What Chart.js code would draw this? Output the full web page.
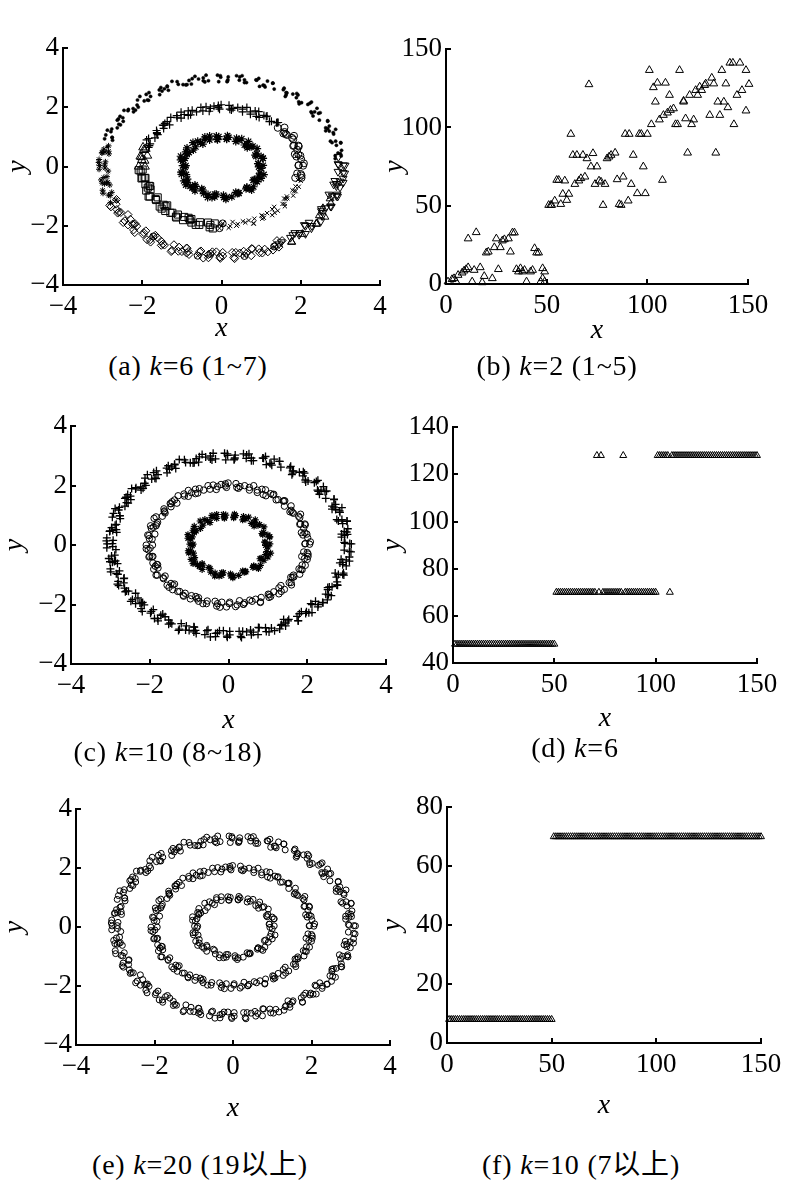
<!DOCTYPE html>
<html>
<head>
<meta charset="utf-8">
<script src="https://cdn.jsdelivr.net/npm/chart.js@4.4.0/dist/chart.umd.min.js"></script>
<style>
  body { margin: 0; background: #fff; }
  #fig { position: relative; width: 800px; height: 1195px; overflow: hidden; background: #fff; }
  canvas { position: absolute; }
  .cap { position: absolute; transform: translate(-50%, -50%); font: 28px "Liberation Serif", "Noto Sans CJK SC", serif; letter-spacing: 0.8px; white-space: nowrap; line-height: 1; color: #000; }
</style>
</head>
<body>
<div id="fig"></div>
<script>
// three rings data set, grouped by the clusters of panel (a)
const outerDots = [[3.02,0.36],[2.87,0.37],[3.00,0.44],[2.90,0.72],[3.01,0.80],[2.79,0.81],[2.82,1.15],[2.83,1.10],[2.63,1.31],[2.68,1.28],[2.68,1.55],[2.47,1.57],[2.49,1.82],[2.28,1.81],[2.35,1.85],[2.18,2.10],[2.23,2.14],[1.96,2.12],[1.93,2.42],[1.89,2.33],[1.63,2.50],[1.63,2.42],[1.58,2.65],[1.33,2.62],[1.30,2.82],[1.05,2.75],[1.08,2.74],[0.87,2.93],[0.89,2.92],[0.58,2.84],[0.52,3.07],[0.45,2.92],[0.17,3.03],[0.15,2.89],
  [-0.03,3.07],[-0.02,3.02],[-0.33,2.90],[-0.39,3.09],[-0.46,2.90],[-0.74,2.97],[-0.76,2.79],[-0.82,2.91],[-1.09,2.78],[-1.12,2.87],[-1.37,2.70],[-1.34,2.58],[-1.53,2.67],[-1.50,2.55],[-1.79,2.37],[-1.83,2.50],[-1.87,2.25],[-2.12,2.25],[-2.10,2.01],[-2.13,2.08],[-2.36,1.89],[-2.35,1.93],[-2.56,1.70],[-2.48,1.53],[-2.63,1.57],[-2.55,1.41],[-2.79,1.18],[-2.77,1.27],[-2.76,0.98],[-2.95,0.94],[-2.88,0.67],
  [2.87,0.27],[3.03,0.55],[2.94,0.46],[3.01,0.81],[2.75,0.86],[2.88,0.86],[2.72,1.20],[2.88,1.26],[2.63,1.21],[2.72,1.37],[2.68,1.53],[2.45,1.80],[2.31,1.71],[2.41,1.97],[2.26,1.85],[2.27,2.18],[1.95,2.19],[2.02,2.16],[1.80,2.45],[1.90,2.47],[1.61,2.37],[1.65,2.49],[1.56,2.60],[1.29,2.82],[1.10,2.69],[1.16,2.89],[0.96,2.71],[0.94,2.98],[0.58,2.93],[0.63,2.84],[0.38,3.07],[0.46,3.03],[0.14,2.87],[0.16,2.93],
  [-0.07,2.87],[-0.10,3.09],[-0.46,3.00],[-0.42,2.86],[-0.67,3.05],[-0.58,2.96],[-0.90,2.76],[-0.87,2.77],[-0.97,2.77],[-1.25,2.88],[-1.44,2.63],[-1.37,2.72],[-1.56,2.43],[-1.57,2.59],[-1.90,2.44],[-1.84,2.24],[-2.06,2.37],[-1.95,2.22],[-2.23,1.96],[-2.17,1.91],[-2.22,1.85],[-2.46,1.90],[-2.60,1.61],[-2.49,1.65],[-2.63,1.31],[-2.59,1.43],[-2.88,1.23],[-2.76,0.99],[-2.92,1.07],[-2.75,0.89]];
const outerStars = [[-2.85,0.70],[-3.01,0.48],[-2.94,0.49],[-3.09,0.24],[-2.95,0.05],[-2.94,-0.05],[-3.09,-0.09],[-2.97,-0.37],[-2.89,-0.34],[-3.01,-0.56],[-2.90,-0.55],[-3.00,-0.80],[-2.81,-0.98],[-2.85,-0.96],[-2.66,-1.13],
  [-2.97,0.59],[-2.85,0.52],[-2.84,0.43],[-3.02,0.46],[-3.10,0.14],[-2.93,0.16],[-3.08,0.04],[-2.86,-0.15],[-3.04,-0.45],[-2.87,-0.53],[-2.82,-0.62],[-2.95,-0.58],[-2.99,-0.90],[-2.77,-0.87],[-2.80,-1.22]];
const outerDiamonds = [[-2.79,-1.36],[-2.66,-1.27],[-2.54,-1.55],[-2.62,-1.57],[-2.44,-1.83],[-2.30,-1.78],[-2.36,-1.97],[-2.18,-1.93],[-2.22,-2.14],[-1.98,-2.29],[-1.96,-2.23],[-1.79,-2.55],[-1.61,-2.41],[-1.44,-2.65],[-1.48,-2.62],[-1.25,-2.83],[-1.07,-2.72],[-1.09,-2.86],[-0.87,-2.76],[-0.88,-2.92],[-0.55,-2.88],[-0.33,-3.08],[-0.13,-2.88],[0.03,-2.90],[0.03,-3.02],[0.31,-3.07],[0.36,-2.90],[0.63,-2.93],[0.78,-2.78],[0.96,-2.91],[0.94,-2.78],[1.17,-2.88],[1.35,-2.67],[1.53,-2.50],
  [-2.65,-1.11],[-2.82,-1.31],[-2.59,-1.54],[-2.64,-1.45],[-2.36,-1.62],[-2.48,-1.89],[-2.25,-1.95],[-2.14,-2.01],[-2.21,-1.95],[-2.19,-2.23],[-1.91,-2.17],[-1.88,-2.47],[-1.67,-2.32],[-1.80,-2.47],[-1.52,-2.66],[-1.52,-2.52],[-1.20,-2.64],[-1.27,-2.87],[-1.00,-2.87],[-0.84,-2.87],[-0.88,-2.75],[-0.82,-2.97],[-0.52,-2.85],[-0.46,-3.09],[-0.23,-2.88],[-0.33,-2.97],[-0.03,-3.10],
  [-0.04,-3.06],[0.27,-2.90],[0.33,-3.11],[0.56,-2.86],[0.46,-2.92],[0.75,-3.01],[0.76,-2.77],[1.09,-2.79],[1.03,-2.92],[1.30,-2.82],[1.45,-2.72],[1.40,-2.50]];
const outerCircX = [[-1.72,-2.36],[-0.60,-3.01],[-0.28,-2.95],[0.58,-3.02],[1.33,-2.70]];
const outerTriDown = [[1.51,-2.55],[1.80,-2.31],[1.96,-2.30],[2.12,-2.00],[2.27,-2.08],[2.21,-1.89],[2.54,-1.67],[2.63,-1.40],[2.77,-1.35],[2.93,-1.01],[2.79,-0.99],[2.90,-0.66],[2.99,-0.70],[2.86,-0.48],[2.99,-0.50],[3.07,-0.21],[2.94,-0.17],[3.08,0.05],[2.94,0.09],
  [1.45,-2.62],[1.74,-2.40],[1.98,-2.24],[1.85,-2.24],[2.12,-2.27],[2.09,-1.97],[2.28,-2.00],[2.51,-1.84],[2.52,-1.43],[2.52,-1.50],[2.75,-1.34],[2.90,-0.99],[2.71,-0.94],[2.92,-0.94],[2.83,-0.60],[3.07,-0.54],[2.90,-0.58],[3.07,-0.40],[3.11,-0.23],[2.96,0.06],[3.12,0.04],[2.95,0.33]];
const outerTriUp = [[1.77,-2.54],[2.04,-2.28],[2.40,-1.94],[2.47,-1.65],[2.56,-1.41],[2.74,-1.08],[1.77,-2.55],[2.39,-1.93],[2.61,-1.70],[2.76,-1.24]];

const midCircles = [[2.02,-0.38],[1.91,-0.23],[2.00,-0.25],[2.06,0.03],[1.95,0.05],[2.01,0.25],[1.89,0.34],[1.99,0.37],[1.91,0.57],[1.95,0.68],[1.81,0.70],[1.81,0.92],[1.78,0.97],[1.62,1.10],[1.65,1.07],[1.59,1.32],[1.42,1.31],
  [2.08,0.11],[1.94,0.41],[1.85,0.42],[1.94,0.71],[1.83,0.71],[1.83,1.04],[1.56,1.12],[1.59,1.17],[1.86,-0.38],[2.02,-0.30],[1.94,0.04]];
const midPlus = [[1.43,1.49],[1.21,1.52],[1.26,1.53],[1.13,1.69],[1.07,1.73],[0.88,1.70],[0.85,1.88],[0.73,1.85],[0.53,1.94],[0.53,1.85],[0.41,2.00],[0.21,1.94],[0.19,2.07],
  [-0.08,1.99],[-0.05,1.94],[-0.19,2.04],[-0.28,1.97],[-0.47,1.88],[-0.52,2.00],[-0.63,1.85],[-0.84,1.88],[-0.84,1.73],[-0.94,1.76],[-1.12,1.65],[-1.13,1.72],[-1.37,1.52],[-1.31,1.41],[-1.43,1.46],[-1.46,1.29],[-1.63,1.15],[-1.64,1.22],[-1.68,0.97],[-1.84,0.95],[-1.80,0.77],[-1.82,0.71],
  [1.39,1.48],[1.41,1.49],[1.15,1.71],[0.95,1.66],[0.94,1.86],[0.73,1.77],[0.64,2.00],[0.29,1.97],[0.25,1.91],[-0.01,2.09],
  [-0.08,2.06],[-0.31,1.87],[-0.39,2.02],[-0.74,1.90],[-0.78,1.75],[-1.02,1.84],[-1.02,1.64],[-1.28,1.66],[-1.48,1.40],[-1.46,1.39],[-1.61,1.08],[-1.63,1.12],[-1.89,0.90],[-1.84,0.65]];
const midTriangles = [[-1.96,0.56],[-1.91,0.60],[-2.05,0.34],[-1.94,0.20],[-2.01,0.22],[-1.93,0.00],[-1.98,0.65],[-1.87,0.37],[-2.02,0.32],[-2.09,0.00]];
const midSquares = [[-2.04,-0.16],[-1.99,-0.10],[-1.92,-0.38],[-2.02,-0.40],[-1.92,-0.60],[-1.82,-0.65],[-1.90,-0.81],[-1.79,-0.77],[-1.81,-1.01],[-1.65,-1.13],[-1.66,-1.10],[-1.46,-1.29],[-1.51,-1.42],[-1.41,-1.34],[-1.24,-1.56],[-1.29,-1.56],[-1.14,-1.72],[-0.94,-1.70],[-0.97,-1.81],[-0.83,-1.73],[-0.76,-1.89],[-0.56,-1.97],[-0.54,-1.88],[-0.28,-1.97],[-0.30,-2.05],[-0.17,-1.92],
  [-2.09,-0.12],[-1.94,-0.39],[-2.00,-0.38],[-1.80,-0.66],[-1.86,-0.71],[-1.84,-1.01],[-1.61,-1.04],[-1.56,-1.35],[-1.37,-1.31],[-1.42,-1.50],[-1.15,-1.69],[-1.10,-1.62],[-0.80,-1.81],[-0.76,-1.77],[-0.65,-1.97],[-0.34,-1.89],[-0.22,-2.09]];
const midCircX = [[-0.05,-2.08],[0.03,-1.92]];
const midCrosses = [[0.02,-1.97],[0.18,-2.07],[0.41,-1.94],[0.38,-1.99],[0.54,-1.85],[0.60,-1.89],[0.81,-1.91],[0.83,-1.76],[1.07,-1.73],[1.03,-1.76],[1.15,-1.57],[1.34,-1.56],[1.28,-1.44],[1.42,-1.49],[1.59,-1.26],[1.54,-1.26],[1.66,-1.07],[1.65,-1.01],[1.81,-0.98],[1.79,-0.80],[1.95,-0.68],[1.87,-0.67],[1.93,-0.45],
  [0.22,-2.01],[0.28,-1.87],[0.38,-1.99],[0.69,-1.82],[0.81,-1.93],[1.04,-1.67],[1.01,-1.65],[1.28,-1.64],[1.33,-1.36],[1.60,-1.34],[1.58,-1.08],[1.62,-1.09],[1.84,-0.82],[1.87,-0.83],[2.00,-0.48]];

const innerRing = [[1.05,0.04],[0.93,0.10],[1.00,0.34],[0.85,0.39],[0.89,0.43],[0.75,0.67],[0.79,0.69],[0.58,0.73],[0.51,0.94],[0.44,0.88],[0.18,0.99],[0.13,0.94],
  [-0.07,1.01],[-0.11,0.92],[-0.30,1.03],[-0.30,0.90],[-0.53,0.81],[-0.60,0.86],[-0.65,0.67],[-0.87,0.63],[-0.87,0.45],[-0.87,0.42],[-1.03,0.23],[-0.96,0.21],
  [-0.92,-0.02],[-1.02,-0.19],[-0.96,-0.19],[-0.86,-0.42],[-0.95,-0.48],[-0.79,-0.66],[-0.66,-0.67],[-0.67,-0.82],[-0.47,-0.79],[-0.45,-0.91],[-0.24,-1.04],[-0.17,-0.93],
  [0.06,-1.04],[0.05,-0.97],[0.26,-1.02],[0.43,-0.88],[0.44,-0.90],[0.64,-0.71],[0.64,-0.70],[0.81,-0.68],[0.83,-0.44],[1.00,-0.40],[0.94,-0.32],[1.00,-0.06],
  [0.92,0.10],[1.04,0.28],[1.05,0.28],[0.87,0.35],[0.90,0.61],[0.65,0.64],[0.68,0.85],[0.65,0.76],[0.38,0.96],[0.36,0.85],[0.13,0.92],[0.15,1.04],
  [-0.10,0.91],[-0.13,1.03],[-0.42,0.93],[-0.42,1.00],[-0.47,0.76],[-0.72,0.81],[-0.71,0.56],[-0.90,0.50],[-0.82,0.48],[-1.03,0.35],[-0.92,0.28],[-0.90,0.03],
  [-0.98,0.03],[-0.89,-0.27],[-1.01,-0.26],[-0.86,-0.54],[-0.90,-0.62],[-0.67,-0.62],[-0.74,-0.72],[-0.50,-0.75],[-0.34,-0.94],[-0.35,-1.04],[-0.13,-0.93],[-0.17,-1.02],
  [0.11,-1.10],[0.13,-1.04],[0.40,-0.91],[0.36,-0.87],[0.62,-0.75],[0.76,-0.79],[0.72,-0.75],[0.90,-0.51],[0.80,-0.46],[0.97,-0.22],[1.07,-0.27],[0.94,-0.01]];

// panel (b): sample index and value
const bX = [1,3,4,5,6,8,9,10,11,11,13,14,15,17,18,19,20,21,23,24,25,26,27,28,29,31,32,33,34,35,36,37,38,39,40,42,43,44,45,46,47,48,48,49,49,
  51,52,52.5,54,55,56,57,58,59,60,61,62,63,64,65,66,67,68,69,70,71,72,73,74,75,76,77,78,79,80,81,82,84,85,86,87,88,89,90.5,91,92,93,95,96,97,98,99,100,
  101,102,103,104,105,106,107.5,108,109,110,111,111.5,113,114,115,116,118,118,119,120,121,122,123,124,125,126,127,128.5,129,131,132,133,134,135,136,137,138,139,140,141,142.5,143,144.5,146,147,149,149,150.5];
const bY = [1.5,3,3.6,1.5,5.7,7.2,8.5,9.4,10.6,29,1.5,8.9,33,10.6,1,5,20,20.6,3.6,23.4,29,9.4,23.4,27.7,28.5,29,20.6,32.8,32.8,9.4,7.9,10,7.9,8.9,1.5,7.9,8.9,22.8,20,20,1.5,3.6,10,7.9,1.5,
  50.4,50.4,50.4,53.2,66.4,66.4,51,57.5,66,53.6,57.5,95.8,82.4,63.8,82.4,66,67.5,82.4,68.5,80.2,127.5,75,83.5,63.8,75,66,65.3,50.4,63.8,80.2,81.3,82.4,83.8,66.8,51,50.4,68.5,95.8,53.2,95.8,63.8,82.4,57.9,95.8,95.8,75,57.9,95.8,
  136.6,102,125.6,116.4,128.5,105,66.4,107.9,128.5,109.4,120.7,111.1,112.1,102,102,136.6,116.4,117,105.7,83.8,120.7,102,105,123.8,120.7,126,123.8,127,128,107.9,131.7,128,83.8,116.4,107.9,136.6,116.4,128,112.8,141.3,141.3,102,120.7,141.3,123.8,110.7,136.6,127.7];

// panel (d) and (f): value of sample 1..150
const dY = [48,48,48,48,48,48,48,48,48,48, 48,48,48,48,48,48,48,48,48,48, 48,48,48,48,48,48,48,48,48,48, 48,48,48,48,48,48,48,48,48,48, 48,48,48,48,48,48,48,48,48,48,
  70,70,70,70,70,70,70,70,70,70, 70,70,70,70,70,70,70,70,70,70, 128,70,128,70,70,70,70,70,70,70, 70,70,70,128,70,70,70,70,70,70, 70,70,70,70,70,70,70,70,70,70,
  128,128,128,128,128,128,70,128,128,128, 128,128,128,128,128,128,128,128,128,128, 128,128,128,128,128,128,128,128,128,128, 128,128,128,128,128,128,128,128,128,128, 128,128,128,128,128,128,128,128,128,128];
const fY = [8,8,8,8,8,8,8,8,8,8, 8,8,8,8,8,8,8,8,8,8, 8,8,8,8,8,8,8,8,8,8, 8,8,8,8,8,8,8,8,8,8, 8,8,8,8,8,8,8,8,8,8,
  70,70,70,70,70,70,70,70,70,70, 70,70,70,70,70,70,70,70,70,70, 70,70,70,70,70,70,70,70,70,70, 70,70,70,70,70,70,70,70,70,70, 70,70,70,70,70,70,70,70,70,70,
  70,70,70,70,70,70,70,70,70,70, 70,70,70,70,70,70,70,70,70,70, 70,70,70,70,70,70,70,70,70,70, 70,70,70,70,70,70,70,70,70,70, 70,70,70,70,70,70,70,70,70,70];

const ringTicks = [-4, 4, 2];
const idxTicks = [0, 150, 50];

const fig = document.getElementById('fig');
const serif = '"Liberation Serif", "Times New Roman", serif';
const hollow = 'rgba(0,0,0,0)';

function minus(v) { return v < 0 ? '\u2212' + Math.abs(v) : String(v); }

// short ticks pointing into the plot
const inwardTicks = {
  id: 'inwardTicks',
  afterDraw(chart) {
    const { ctx, chartArea: a, scales: { x, y } } = chart;
    ctx.save();
    ctx.strokeStyle = '#000';
    ctx.lineWidth = 2;
    ctx.beginPath();
    x.ticks.forEach(t => {
      const px = Math.round(x.getPixelForValue(t.value));
      ctx.moveTo(px, a.bottom); ctx.lineTo(px, a.bottom - 5);
    });
    y.ticks.forEach(t => {
      const py = Math.round(y.getPixelForValue(t.value));
      ctx.moveTo(a.left, py); ctx.lineTo(a.left + 5, py);
    });
    ctx.stroke();
    ctx.restore();
  }
};

function axis(r, name, fit) {
  return {
    type: 'linear', min: r[0], max: r[1],
    afterFit: fit,
    grid: { display: false, drawTicks: false },
    border: { display: true, color: '#000', width: 2 },
    ticks: { stepSize: r[2], color: '#000', padding: name === 'x' ? 6 : 4, autoSkip: false, maxRotation: 0,
      font: { family: serif, size: 27 }, callback: v => minus(v) },
    title: { display: true, text: name, color: '#000', padding: 0, font: { family: serif, size: 28, style: 'italic' } }
  };
}

function ds(list, style, r, opt) {
  return Object.assign({
    data: list.map(p => ({ x: p[0], y: p[1] })),
    pointStyle: style, pointRadius: r, pointBorderWidth: 1,
    pointBorderColor: '#000', pointBackgroundColor: hollow, clip: false
  }, opt || {});
}

function panel(p) {
  const left = p.yTitleX - 17, top = p.box[1] - 20;
  const width = p.box[2] + 35 - left, height = p.xTitleY + 17 - top;
  const cv = document.createElement('canvas');
  cv.width = width; cv.height = height;
  cv.style.left = left + 'px'; cv.style.top = top + 'px';
  cv.style.width = width + 'px'; cv.style.height = height + 'px';
  fig.appendChild(cv);
  new Chart(cv, {
    type: 'scatter',
    data: { datasets: p.sets },
    options: {
      responsive: false, animation: false, devicePixelRatio: 1,
      layout: { padding: { left: 0, top: 20, right: 35, bottom: 0 } },
      plugins: { legend: { display: false }, tooltip: { enabled: false } },
      scales: {
        x: axis(p.x, 'x', s => { s.height = p.xTitleY + 17 - p.box[3]; }),
        y: axis(p.y, 'y', s => { s.width = p.box[0] - left; })
      }
    },
    plugins: [inwardTicks]
  });
  const cap = document.createElement('div');
  cap.className = 'cap';
  cap.style.left = p.cap[0] + 'px'; cap.style.top = p.cap[1] + 'px';
  cap.innerHTML = p.caption;
  fig.appendChild(cap);
}

const outerAll = [...outerDots, ...outerStars, ...outerDiamonds, ...outerCircX, ...outerTriDown, ...outerTriUp];
const midAll = [...midCircles, ...midPlus, ...midTriangles, ...midSquares, ...midCircX, ...midCrosses];

panel({
  box: [63, 48, 380, 285], yTitleX: 18, xTitleY: 328, cap: [188, 366],
  x: ringTicks, y: ringTicks, caption: '(a) <i>k</i>=6 (1~7)',
  sets: [
    ds(outerDots, 'circle', 1.6, { pointBackgroundColor: '#000', pointBorderWidth: 0.5 }),
    ds(outerStars, 'star', 3),
    ds(outerDiamonds, 'rectRot', 4),
    ds(outerCircX, 'circle', 3.5), ds(outerCircX, 'crossRot', 3.5),
    ds(outerTriDown, 'triangle', 4.5, { pointRotation: 180 }),
    ds(outerTriUp, 'triangle', 4.5),
    ds(midPlus, 'cross', 4, { pointBorderWidth: 1.2 }),
    ds(midCircles, 'circle', 3.5),
    ds(midTriangles, 'triangle', 5),
    ds(midSquares, 'rect', 5),
    ds(midCircX, 'circle', 3.5), ds(midCircX, 'crossRot', 3.5),
    ds(midCrosses, 'crossRot', 3),
    ds(innerRing, 'star', 4, { pointBorderWidth: 1.2 })
  ]
});

panel({
  box: [446, 49, 748, 284], yTitleX: 395, xTitleY: 330, cap: [557, 366],
  x: idxTicks, y: idxTicks, caption: '(b) <i>k</i>=2 (1~5)',
  sets: [ds(bX.map((v, i) => [v, bY[i]]), 'triangle', 4.5)]
});

panel({
  box: [71, 426, 386, 664], yTitleX: 15, xTitleY: 720, cap: [168, 752],
  x: ringTicks, y: ringTicks, caption: '(c) <i>k</i>=10 (8~18)',
  sets: [
    ds(outerAll, 'cross', 4, { pointBorderWidth: 1.3 }),
    ds(midAll, 'circle', 3.2),
    ds(innerRing, 'star', 3.5, { pointBorderWidth: 1.2 })
  ]
});

panel({
  box: [453, 427, 757, 663], yTitleX: 393, xTitleY: 718, cap: [575, 748],
  x: idxTicks, y: [40, 140, 20], caption: '(d) <i>k</i>=6',
  sets: [ds(dY.map((v, i) => [i + 1, v]), 'triangle', 4)]
});

panel({
  box: [76, 809, 390, 1045], yTitleX: 15, xTitleY: 1108, cap: [200, 1165],
  x: ringTicks, y: ringTicks, caption: '(e) <i>k</i>=20 (19以上)',
  sets: [ds([...outerAll, ...midAll, ...innerRing], 'circle', 3)]
});

panel({
  box: [447, 807, 761, 1043], yTitleX: 393, xTitleY: 1105, cap: [581, 1165],
  x: idxTicks, y: [0, 80, 20], caption: '(f) <i>k</i>=10 (7以上)',
  sets: [ds(fY.map((v, i) => [i + 1, v]), 'triangle', 4)]
});
</script>
</body>
</html>
